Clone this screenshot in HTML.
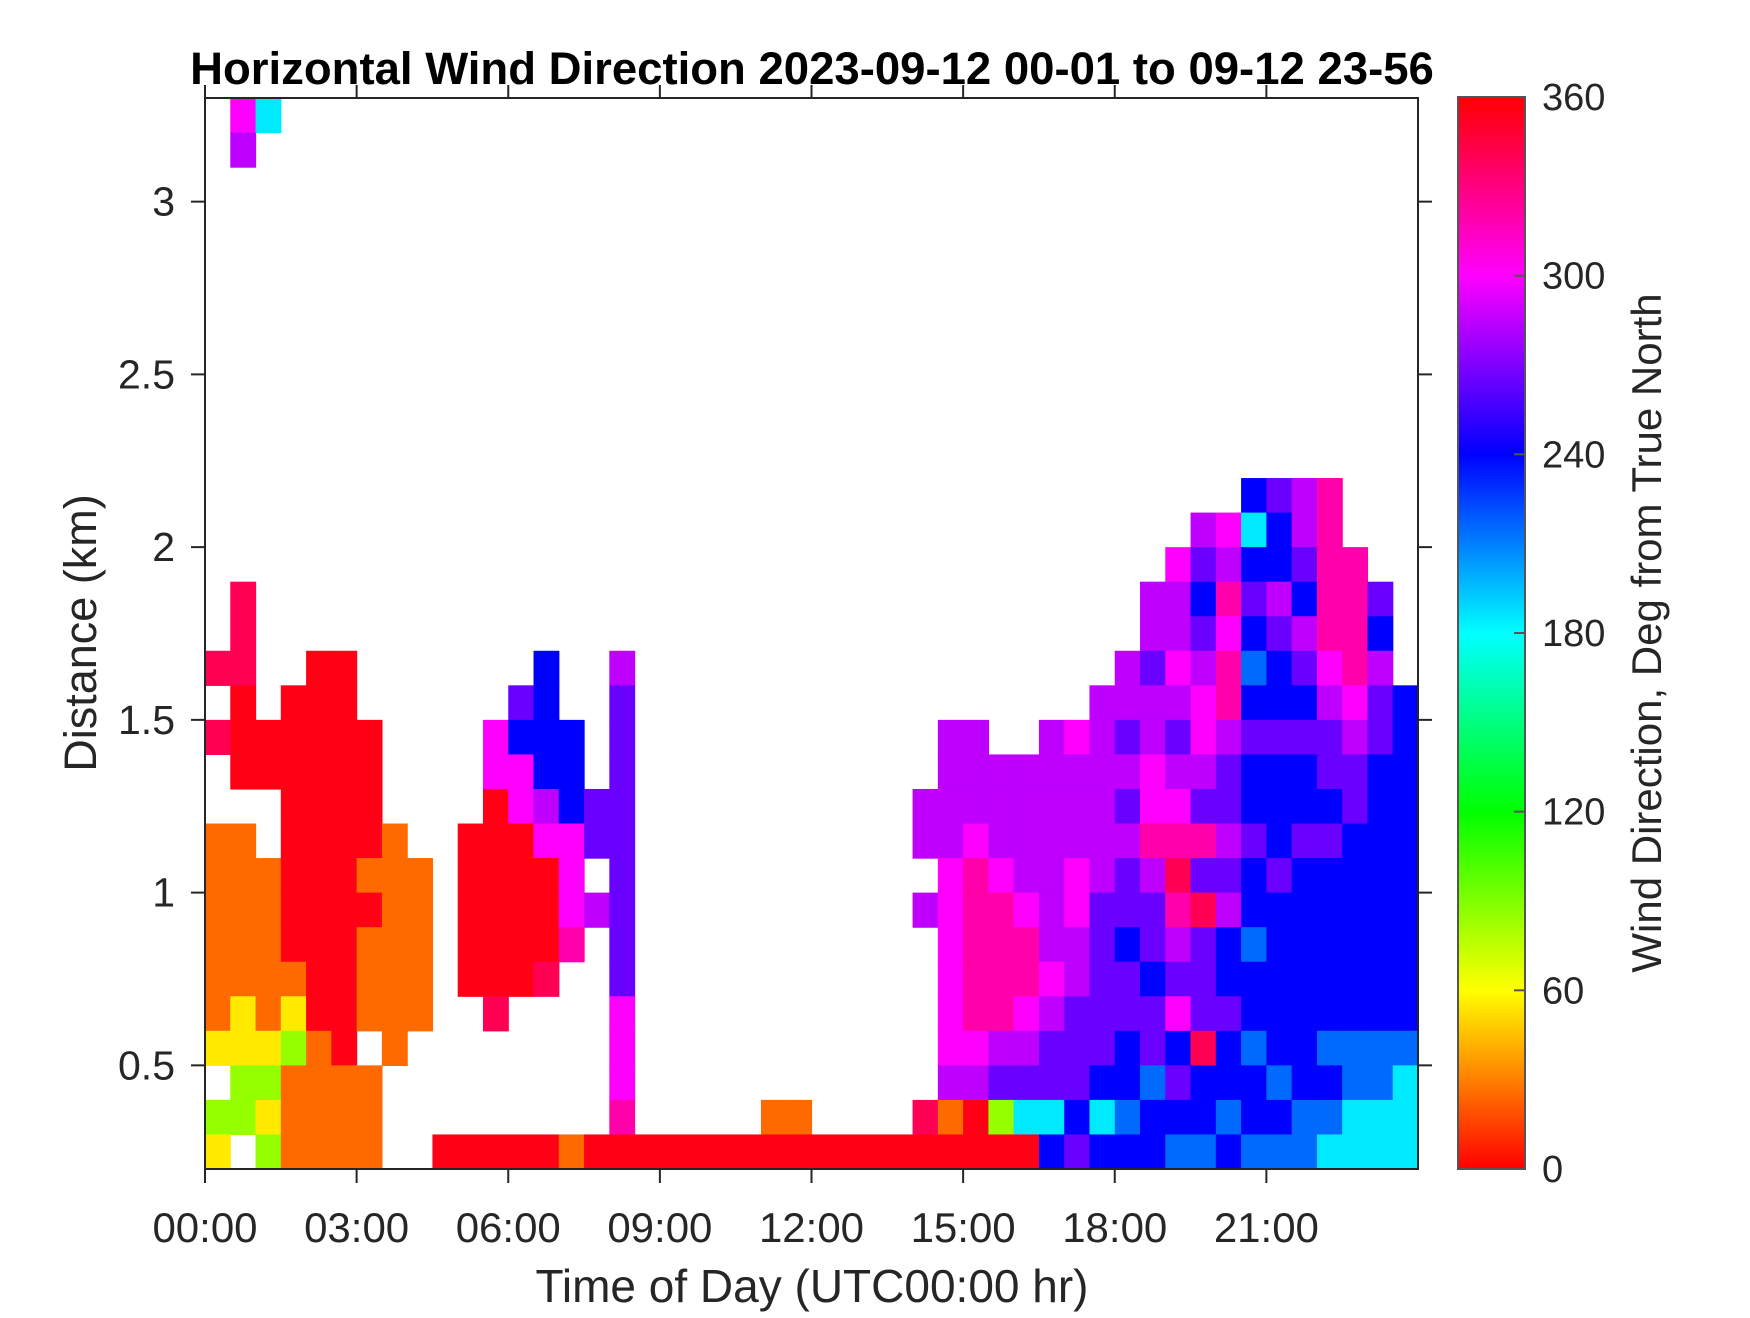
<!DOCTYPE html>
<html><head><meta charset="utf-8"><style>
html,body{margin:0;padding:0;background:#fff;}
svg text{font-family:"Liberation Sans",Arial,sans-serif;fill:#262626;}
</style></head><body>
<svg id="chart" width="1750" height="1313" viewBox="0 0 1750 1313" xmlns="http://www.w3.org/2000/svg">
<defs>
<linearGradient id="cbg" x1="0" y1="1" x2="0" y2="0">
<stop offset="0" stop-color="hsl(0,100%,50%)"/><stop offset="0.1667" stop-color="hsl(60,100%,50%)"/><stop offset="0.3333" stop-color="hsl(120,100%,50%)"/><stop offset="0.5" stop-color="hsl(180,100%,50%)"/><stop offset="0.6667" stop-color="hsl(240,100%,50%)"/><stop offset="0.8333" stop-color="hsl(300,100%,50%)"/><stop offset="1" stop-color="hsl(360,100%,50%)"/>
</linearGradient>
<clipPath id="plotclip"><rect x="205" y="98" width="1213" height="1071"/></clipPath>
</defs>
<text x="812" y="84" text-anchor="middle" font-size="45.5" font-weight="bold" style="fill:#000">Horizontal Wind Direction 2023-09-12 00-01 to 09-12 23-56</text>
<g id="cells" clip-path="url(#plotclip)"></g>
<g id="axes"></g>
<rect x="1458" y="97" width="67" height="1072" fill="url(#cbg)" stroke="#555" stroke-width="2"/>
<g id="cbticks"></g>
<text x="812" y="1302" text-anchor="middle" font-size="46">Time of Day (UTC00:00 hr)</text>
<text transform="translate(96,633) rotate(-90)" text-anchor="middle" font-size="45">Distance (km)</text>
<text transform="translate(1661,633) rotate(-90)" text-anchor="middle" font-size="42">Wind Direction, Deg from True North</text>
</svg>
<script>
// ---- data ----
const colStartHours = [0,0.5,1,1.5,2,2.5,3,3.5,4,4.5,5,5.5,6,6.5,7,7.5,8,8.5,9,9.5,10,10.5,11,11.5,12,12.5,13,13.5,14,14.5,15,15.5,16,16.5,17,17.5,18,18.5,19,19.5,20,20.5,21,21.5,22,22.5,23,23.5];
const colWidthHours = 0.5;
const rowTopKm = [3.3,3.2,3.1,3.0,2.9,2.8,2.7,2.6,2.5,2.4,2.3,2.2,2.1,2.0,1.9,1.8,1.7,1.6,1.5,1.4,1.3,1.2,1.1,1.0,0.9,0.8,0.7,0.6,0.5,0.4,0.3];
const rowHeightKm = 0.1;
const codeDeg = {R:355,O:25,Y:55,G:85,C:185,L:215,B:240,V:265,P:285,M:300,K:320,r:340};
// each string: one time column, rows top (3.3 km) to bottom (0.2 km); '.' = no data
const columnCodes = [
"..... ..... ..... .r.r. .OOOO OOY.G Y",
"MP... ..... ....r rrRRR .OOOO OYYGG .",
"C.... ..... ..... ...RR ..OOO OOYGY G",
"..... ..... ..... ..RRR RRRRR OYGOO O",
"..... ..... ..... .RRRR RRRRR RROOO O",
"..... ..... ..... .RRRR RRRRR RRROO O",
"..... ..... ..... ...RR RRORO OO.OO O",
"..... ..... ..... ..... .OOOO OOO.. .",
"..... ..... ..... ..... ..OOO OO... .",
"..... ..... ..... ..... ..... ..... R",
"..... ..... ..... ..... .RRRR R.... R",
"..... ..... ..... ...MM RRRRR Rr... R",
"..... ..... ..... ..VBM MRRRR R.... R",
"..... ..... ..... .BBBB PMRRR r.... R",
"..... ..... ..... ...BB BMMMK ..... O",
"..... ..... ..... ..... VV.P. ..... R",
"..... ..... ..... .PVVV VVVVV VMMMK R",
"..... ..... ..... ..... ..... ..... R",
"..... ..... ..... ..... ..... ..... R",
"..... ..... ..... ..... ..... ..... R",
"..... ..... ..... ..... ..... ..... R",
"..... ..... ..... ..... ..... ..... R",
"..... ..... ..... ..... ..... ....O R",
"..... ..... ..... ..... ..... ....O R",
"..... ..... ..... ..... ..... ..... R",
"..... ..... ..... ..... ..... ..... R",
"..... ..... ..... ..... ..... ..... R",
"..... ..... ..... ..... ..... ..... R",
"..... ..... ..... ..... PP.P. ....r R",
"..... ..... ..... ...PP PPMMM MMMPO R",
"..... ..... ..... ...PP PMKKK KKMPR R",
"..... ..... ..... ....P PPMKK KKPVG R",
"..... ..... ..... ....P PPPMK KMPVC R",
"..... ..... ..... ...PP PPPPP MPVVC B",
"..... ..... ..... ...MP PPMMP PVVVB V",
"..... ..... ..... ..PPP PPPVV VVVBC B",
"..... ..... ..... .PPVP VPVVB VVBBL B",
"..... ..... ....P PVPPM MKPVV BVVLB B",
"..... ..... ...MP PMPVP MKrKP VMBVB L",
"..... ..... ..PVB VPMMP VKVrV VVrBB L",
"..... ..... ..MPK MKKPV VPVPB BVBBL B",
"..... ..... .BCBV BLBVB BVBBL BBLBB L",
"..... ..... .VBBP VBBVB BBVBB BBBLB L",
"..... ..... .PPVB PVBVB BVBBB BBBBL L",
"..... ..... .KKKK KMPVV BVBBB BBLBL C",
"..... ..... ...KK KKMPV VBBBB BBLLC C",
"..... ..... ....V BPVVB BBBBB BBLLC C",
"..... ..... ..... ..BBB BBBBB BBLCC C"
];
const xTickHours = [0,3,6,9,12,15,18,21];
const xTickLabels = ["00:00","03:00","06:00","09:00","12:00","15:00","18:00","21:00"];
const yTickKm = [0.5,1,1.5,2,2.5,3];
const yTickLabels = ["0.5","1","1.5","2","2.5","3"];
const cbTicks = [0,60,120,180,240,300,360];

// ---- scales ----
const PL=205, PR=1418, PT=98, PB=1169;
const X0=0, X1=24, Y0=0.2, Y1=3.3;
const xs = h => PL + (h-X0)/(X1-X0)*(PR-PL);
const ys = k => PB - (k-Y0)/(Y1-Y0)*(PB-PT);
const CBT=97, CBB=1169;
const cs = v => CBB - v/360*(CBB-CBT);
const NS="http://www.w3.org/2000/svg";
const mk=(t,a)=>{const e=document.createElementNS(NS,t);for(const k in a)e.setAttribute(k,a[k]);return e;};

const cells=document.getElementById('cells');
columnCodes.forEach((s,ci)=>{
  const codes=s.replace(/ /g,'');
  const x=xs(colStartHours[ci]), w=xs(colStartHours[ci]+colWidthHours)-x;
  for(let ri=0;ri<codes.length;ri++){
    const ch=codes[ri]; if(ch==='.')continue;
    const top=rowTopKm[ri];
    const y=ys(top), h=ys(top-rowHeightKm)-y;
    const r=mk('rect',{x:x.toFixed(2),y:y.toFixed(2),width:(w+0.6).toFixed(2),height:(h+0.6).toFixed(2),fill:`hsl(${codeDeg[ch]},100%,50%)`});
    
    
    cells.appendChild(r);
  }
});

const axes=document.getElementById('axes');
const frame=mk('rect',{x:PL,y:PT,width:PR-PL,height:PB-PT,fill:'none',stroke:'#262626','stroke-width':2});


axes.appendChild(frame);
xTickHours.forEach((h,i)=>{
  const x=xs(h);
  axes.appendChild(mk('line',{x1:x,y1:PB,x2:x,y2:PB+14,stroke:'#262626','stroke-width':2}));
  axes.appendChild(mk('line',{x1:x,y1:PT,x2:x,y2:PT-13,stroke:'#262626','stroke-width':2}));
  const t=mk('text',{x:x,y:1242,'text-anchor':'middle','font-size':42});
  t.textContent=xTickLabels[i];
  
  
  axes.appendChild(t);
});
yTickKm.forEach((k,i)=>{
  const y=ys(k);
  axes.appendChild(mk('line',{x1:PL-14,y1:y,x2:PL,y2:y,stroke:'#262626','stroke-width':2}));
  axes.appendChild(mk('line',{x1:PR,y1:y,x2:PR+14,y2:y,stroke:'#262626','stroke-width':2}));
  const t=mk('text',{x:175,y:y+14,'text-anchor':'end','font-size':41});
  t.textContent=yTickLabels[i];
  
  
  axes.appendChild(t);
});
const cbt=document.getElementById('cbticks');
cbTicks.forEach(v=>{
  const y=cs(v);
  cbt.appendChild(mk('line',{x1:1514,y1:y,x2:1525,y2:y,stroke:'#555','stroke-width':2}));
  const t=mk('text',{x:1542,y:y+13,'font-size':38});
  t.textContent=String(v);
  
  
  cbt.appendChild(t);
});
</script>
</body></html>
